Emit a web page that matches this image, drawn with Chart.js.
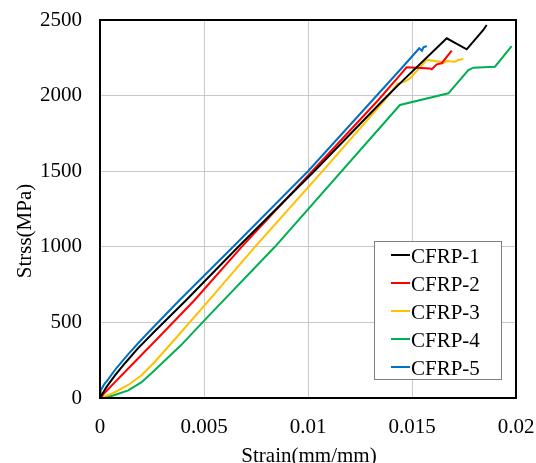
<!DOCTYPE html>
<html>
<head>
<meta charset="utf-8">
<script src="https://cdn.jsdelivr.net/npm/chart.js@4/dist/chart.umd.min.js"></script>
<style>
  html, body { margin: 0; padding: 0; background: #ffffff; }
  #wrap { width: 536px; height: 463px; }
</style>
</head>
<body>
<div id="wrap"><canvas id="c" width="536" height="463"></canvas></div>
<script>
// ---- Data ----
const seriesNames = ['CFRP-1', 'CFRP-2', 'CFRP-3', 'CFRP-4', 'CFRP-5'];
const seriesColors = ['#000000', '#FF0000', '#FFC000', '#00B050', '#0070C0'];

const strain1 = [0, 0.0003, 0.00072, 0.0012, 0.0018, 0.00256, 0.00415, 0.00665, 0.0103, 0.01362, 0.01442, 0.01667, 0.01763, 0.01843, 0.01859];
const stress1 = [0, 70, 150, 230, 325, 432, 648, 1000, 1500, 1971, 2081, 2379, 2306, 2434, 2467];

const strain2 = [0, 0.0003, 0.00072, 0.0015, 0.00264, 0.00455, 0.00681, 0.0102, 0.01338, 0.01442, 0.01474, 0.01587, 0.01595, 0.01619, 0.01643, 0.01691];
const stress2 = [0, 45, 105, 215, 375, 648, 1000, 1500, 1971, 2136, 2187, 2180, 2174, 2207, 2214, 2297];

const strain3 = [0, 0.0006, 0.00136, 0.002, 0.00264, 0.0038, 0.00511, 0.00745, 0.0107, 0.0137, 0.01429, 0.01466, 0.0149, 0.01571, 0.01635, 0.01651, 0.01667, 0.01707, 0.01723, 0.01747];
const stress3 = [0, 30, 86, 150, 240, 420, 626, 1000, 1500, 1971, 2077, 2092, 2114, 2236, 2224, 2213, 2229, 2224, 2236, 2242];

const strain4 = [0, 0.0006, 0.00136, 0.002, 0.00264, 0.0039, 0.00511, 0.00841, 0.01442, 0.01675, 0.01771, 0.01795, 0.01899, 0.01979];
const stress4 = [0, 15, 50, 105, 185, 350, 527, 1000, 1938, 2015, 2169, 2185, 2191, 2328];

const strain5 = [0, 0.00003, 0.0002, 0.0004, 0.0008, 0.00136, 0.0019, 0.0024, 0.00383, 0.0064, 0.01, 0.01311, 0.01442, 0.01535, 0.01548, 0.01555, 0.01571];
const stress5 = [0, 50, 90, 125, 200, 290, 372, 445, 648, 1000, 1500, 1971, 2169, 2313, 2297, 2320, 2328];

const xTickLabels = ['0', '0.005', '0.01', '0.015', '0.02'];
const yTickLabels = ['0', '500', '1000', '1500', '2000', '2500'];
const xTitle = 'Strain(mm/mm)';
const yTitle = 'Strss(MPa)';

// ---- Build datasets ----
const strains = [strain1, strain2, strain3, strain4, strain5];
const stresses = [stress1, stress2, stress3, stress4, stress5];
const datasets = seriesNames.map((name, i) => ({
  label: name,
  data: strains[i].map((x, k) => ({ x: x, y: stresses[i][k] })),
  borderColor: seriesColors[i],
  backgroundColor: seriesColors[i],
  borderWidth: 2,
  pointRadius: 0,
  fill: false,
  tension: 0,
  order: i
}));

const FONT = '"Liberation Serif", "Times New Roman", serif';

const framePlugin = {
  id: 'frame',
  afterDatasetsDraw(chart) {
    const { ctx, chartArea: a } = chart;
    ctx.save();
    ctx.strokeStyle = '#000000';
    ctx.lineWidth = 2;
    ctx.strokeRect(a.left, a.top, a.right - a.left, a.bottom - a.top);
    ctx.restore();
  }
};

const titlesPlugin = {
  id: 'titles',
  afterDraw(chart) {
    const { ctx } = chart;
    ctx.save();
    ctx.fillStyle = '#000000';
    ctx.font = '21px ' + FONT;
    ctx.textAlign = 'center';
    ctx.textBaseline = 'alphabetic';
    ctx.fillText(xTitle, 309, 462);
    ctx.translate(31, 231);
    ctx.rotate(-Math.PI / 2);
    ctx.fillText(yTitle, 0, 0);
    ctx.restore();
  }
};

const legendPlugin = {
  id: 'boxLegend',
  afterDraw(chart) {
    const { ctx } = chart;
    ctx.save();
    ctx.fillStyle = '#ffffff';
    ctx.fillRect(374.5, 241.5, 127, 138);
    ctx.strokeStyle = '#808080';
    ctx.lineWidth = 1;
    ctx.strokeRect(374.5, 241.5, 127, 138);
    ctx.font = '21px ' + FONT;
    ctx.textAlign = 'left';
    ctx.textBaseline = 'alphabetic';
    chart.data.datasets.forEach((d, i) => {
      const yLine = 255 + 28 * i;
      ctx.strokeStyle = d.borderColor;
      ctx.lineWidth = 2;
      ctx.beginPath();
      ctx.moveTo(391, yLine);
      ctx.lineTo(410, yLine);
      ctx.stroke();
      ctx.fillStyle = '#000000';
      ctx.fillText(d.label, 411, 263 + 28 * i);
    });
    ctx.restore();
  }
};

new Chart(document.getElementById('c'), {
  type: 'line',
  data: { datasets: datasets },
  options: {
    responsive: false,
    animation: false,
    devicePixelRatio: 1,
    layout: { padding: { left: 0, top: 20, right: 20, bottom: 0 } },
    plugins: { legend: { display: false }, tooltip: { enabled: false } },
    scales: {
      x: {
        type: 'linear',
        min: 0, max: 0.02,
        afterFit(scale) {
          scale.height = 65;
          scale.paddingLeft = 0; scale.paddingRight = 0;
        },
        afterBuildTicks(scale) {
          scale.ticks = xTickLabels.map(s => ({ value: parseFloat(s) }));
        },
        ticks: {
          autoSkip: false,
          maxRotation: 0,
          padding: 17,
          color: '#000000',
          font: { family: FONT, size: 21 },
          callback: (v, i) => xTickLabels[i]
        },
        grid: { color: '#c8c8c8', lineWidth: 1, drawTicks: false },
        border: { display: false }
      },
      y: {
        type: 'linear',
        min: 0, max: 2500,
        afterFit(scale) {
          scale.width = 100;
          scale.paddingTop = 0; scale.paddingBottom = 0;
        },
        afterBuildTicks(scale) {
          scale.ticks = yTickLabels.map(s => ({ value: parseFloat(s) }));
        },
        ticks: {
          padding: 18,
          color: '#000000',
          font: { family: FONT, size: 21 },
          callback: (v, i) => yTickLabels[i]
        },
        grid: { color: '#c8c8c8', lineWidth: 1, drawTicks: false },
        border: { display: false }
      }
    }
  },
  plugins: [framePlugin, titlesPlugin, legendPlugin]
});
</script>
</body>
</html>
